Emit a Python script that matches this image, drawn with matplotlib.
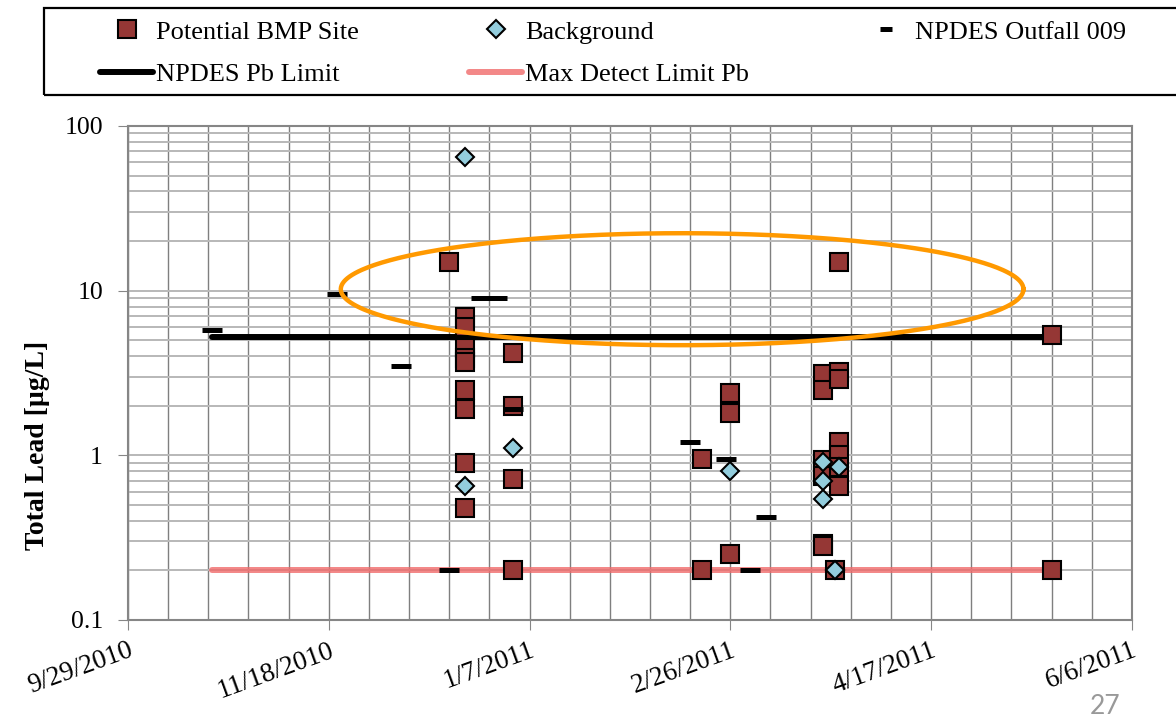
import matplotlib
matplotlib.use('Agg')
import matplotlib.pyplot as plt
import matplotlib.dates as mdates
from matplotlib.lines import Line2D
from matplotlib.patches import Rectangle
from matplotlib.ticker import FixedLocator, FuncFormatter, LogLocator, NullFormatter
import numpy as np

plt.rcParams['font.family'] = ['Liberation Serif', 'DejaVu Serif']

# total lead results, ug/L
bmp_dates = ['2010-12-18',
             '2010-12-22', '2010-12-22', '2010-12-22', '2010-12-22', '2010-12-22',
             '2010-12-22', '2010-12-22', '2010-12-22', '2010-12-22',
             '2011-01-03', '2011-01-03', '2011-01-03', '2011-01-03',
             '2011-02-19', '2011-02-19',
             '2011-02-26', '2011-02-26', '2011-02-26',
             '2011-03-21', '2011-03-21', '2011-03-21', '2011-03-21', '2011-03-21', '2011-03-21',
             '2011-03-24',
             '2011-03-25', '2011-03-25', '2011-03-25', '2011-03-25', '2011-03-25', '2011-03-25',
             '2011-03-25',
             '2011-05-17', '2011-05-17']
bmp_values = [15,
              6.9, 6.0, 4.5, 3.9, 3.7, 2.5, 1.9, 0.9, 0.48,
              4.2, 2.0, 0.72, 0.2,
              0.95, 0.2,
              2.4, 1.8, 0.25,
              3.1, 2.5, 0.94, 0.75, 0.29, 0.28,
              0.2,
              15, 3.2, 2.9, 1.2, 1.0, 0.85, 0.65,
              5.4, 0.2]

background_dates = ['2010-12-22', '2010-12-22', '2011-01-03', '2011-02-26',
                    '2011-03-21', '2011-03-21', '2011-03-21', '2011-03-24', '2011-03-25']
background_values = [65, 0.65, 1.1, 0.8, 0.91, 0.70, 0.54, 0.2, 0.85]

outfall_dates = ['2010-10-20', '2010-11-20', '2010-12-06', '2010-12-18', '2010-12-26',
                 '2010-12-30', '2011-01-03', '2011-02-16', '2011-02-25', '2011-03-03',
                 '2011-03-07']
outfall_values = [5.8, 9.5, 3.5, 0.2, 9.0, 9.0, 1.9, 1.2, 0.95, 0.2, 0.42]

limit_dates = ['2010-10-20', '2011-05-17']
pb_limit = [5.2, 5.2]
detect_limit = [0.2, 0.2]

x_tick_dates = ['2010-09-29', '2010-11-18', '2011-01-07', '2011-02-26', '2011-04-17', '2011-06-06']
grid_step_days = 10

# circled group of high results
focus_date = '2011-02-14'
focus_value = 10.2
focus_half_days = 85
focus_half_decades = 0.34


def to_num(dates):
    return mdates.datestr2num(dates)


def date_label(v):
    d = mdates.num2date(v)
    return f'{d.month}/{d.day}/{d.year}'


fig = plt.figure(figsize=(11.76, 7.23), dpi=100)
ax = fig.add_axes([0.1088, 0.1425, 0.8537, 0.6833])

ax.plot(to_num(limit_dates), pb_limit, color='black', lw=4.3,
        solid_capstyle='round', zorder=3)
ax.plot(to_num(limit_dates), detect_limit, color='#f06a6a', alpha=0.8, lw=4.3,
        solid_capstyle='round', zorder=3)

ax.plot(to_num(bmp_dates), bmp_values, ls='none', marker='s', ms=12.3,
        mfc='#953735', mec='black', mew=1.5, zorder=4)
ax.plot(to_num(background_dates), background_values, ls='none', marker='D', ms=8.7,
        mfc='#93cddd', mec='black', mew=1.5, zorder=5)
ax.plot(to_num(outfall_dates), outfall_values, ls='none', marker='_', ms=14.4,
        mec='black', mew=3.6, zorder=5)

t = np.linspace(0, 2 * np.pi, 400)
cx = to_num([focus_date])[0]
ax.plot(cx + focus_half_days * np.cos(t),
        focus_value * 10 ** (focus_half_decades * np.sin(t)),
        color='#ff9900', lw=3.2, zorder=6)

# axes
ticks = to_num(x_tick_dates)
ax.set_xlim(ticks[0], ticks[-1])
ax.set_yscale('log')
ax.set_ylim(0.1, 100)

ax.set_xticks(ticks, [date_label(v) for v in ticks], rotation=20, ha='right',
              va='top', rotation_mode='anchor', fontsize=19.5)
ax.xaxis.set_minor_locator(FixedLocator(np.arange(ticks[0], ticks[-1] + 1, grid_step_days)))
ax.yaxis.set_major_locator(LogLocator(base=10))
ax.yaxis.set_minor_locator(LogLocator(base=10, subs=np.arange(2, 10)))
ax.yaxis.set_major_formatter(FuncFormatter(lambda v, p: f'{v:g}'))
ax.yaxis.set_minor_formatter(NullFormatter())

ax.tick_params(axis='x', which='major', length=7, pad=6, color='#868686')
ax.tick_params(axis='y', which='major', length=7, pad=11, color='#868686', labelsize=18.5)
ax.tick_params(which='minor', length=0)

ax.set_axisbelow(True)
ax.grid(axis='x', which='both', color='#7f7f7f', lw=1.0)
ax.grid(axis='y', which='both', color='#b8b8b8', lw=1.4)
for s in ax.spines.values():
    s.set_color('#868686')
    s.set_linewidth(1.5)

ax.set_ylabel('Total Lead [µg/L]', fontsize=20, fontweight='bold')
ax.yaxis.set_label_coords(-0.078, 0.354)

# legend across the top
h_bmp = Line2D([], [], ls='none', marker='s', ms=12.3, mfc='#953735', mec='black', mew=1.5)
h_bg = Line2D([], [], ls='none', marker='D', ms=8.7, mfc='#93cddd', mec='black', mew=1.5)
h_out = Line2D([], [], ls='none', marker='_', ms=9, mec='black', mew=3.6)
h_pb = Line2D([], [], color='black', lw=4.3, solid_capstyle='round')
h_det = Line2D([], [], color='#f06a6a', alpha=0.8, lw=4.3, solid_capstyle='round')
fig.legend([h_bmp, h_pb, h_bg, h_det, h_out],
           ['Potential BMP Site', 'NPDES Pb Limit', 'Background', 'Max Detect Limit Pb',
            'NPDES Outfall 009'],
           ncol=3, frameon=False, fontsize=19, handlelength=2.0, handletextpad=0.1,
           columnspacing=4.2, labelspacing=0.72, borderpad=0, loc='upper left',
           bbox_to_anchor=(87 / 1176, 1 - 7 / 723), bbox_transform=fig.transFigure)
fig.add_artist(Rectangle((44 / 1176, 1 - 95 / 723), 1.2, 87 / 723, transform=fig.transFigure,
                         fill=False, ec='black', lw=1.6, clip_on=False))

fig.text(1105 / 1176, 1 - 706 / 723, '27', color='#999999', ha='center', va='center',
         fontsize=19, family=['Lato', 'DejaVu Sans'])

fig.savefig('out.png', dpi=100)
